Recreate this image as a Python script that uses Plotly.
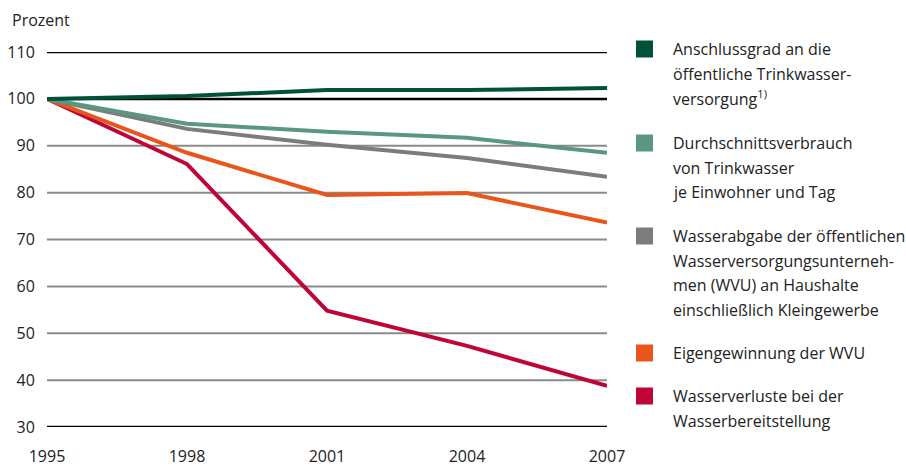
import plotly.graph_objects as go

years = [1995, 1998, 2001, 2004, 2007]
anschluss = [100, 100.6, 101.9, 101.9, 102.3]
durchschnitt = [100, 94.7, 93.0, 91.7, 88.5]
wasserabgabe = [100, 93.6, 90.2, 87.4, 83.4]
eigengewinnung = [100, 88.5, 79.5, 79.9, 73.6]
verluste = [100, 86.1, 54.8, 47.3, 38.8]

series_names = [
    ["Anschlussgrad an die", "öffentliche Trinkwasser-", "versorgung<sup>1)</sup>"],
    ["Durchschnittsverbrauch", "von Trinkwasser", "je Einwohner und Tag"],
    ["Wasserabgabe der öffentlichen", "Wasserversorgungsunterneh-", "men (WVU) an Haushalte", "einschließlich Kleingewerbe"],
    ["Eigengewinnung der WVU"],
    ["Wasserverluste bei der", "Wasserbereitstellung"],
]
colors = ["#00513a", "#5a9781", "#7c7c7c", "#e8561b", "#bf0538"]
series_values = [anschluss, durchschnitt, wasserabgabe, eigengewinnung, verluste]

y_ticks = [30, 40, 50, 60, 70, 80, 90, 100, 110]
black_ticks = [30, 100, 110]
x_ticks = [1995, 1998, 2001, 2004, 2007]

FONT = "Open Sans"
W, H = 906, 466
L, R, T, B = 47, 299, 52, 39

fig = go.Figure()

# horizontal grid lines
for yv in y_ticks:
    is_black = yv in black_ticks
    fig.add_shape(type="line", xref="paper", yref="y", x0=0, x1=1, y0=yv, y1=yv,
                  line=dict(color="black" if is_black else "#8a8a8a", width=2.5 if is_black else 2),
                  layer="below")

draw_order = [4, 3, 2, 1, 0]
for i in draw_order:
    fig.add_trace(go.Scatter(x=years, y=series_values[i], mode="lines",
                             line=dict(color=colors[i], width=4),
                             showlegend=False, hoverinfo="skip"))

def px_x(p):
    return (p - L) / (W - L - R)

def px_y(p):
    return (H - B - p) / (H - T - B)

legend_tops = [49, 143, 236, 353, 396]
line_gap = 24.5
for i, (lines, c) in enumerate(zip(series_names, colors)):
    yc = legend_tops[i]
    fig.add_shape(type="rect", xref="paper", yref="paper",
                  x0=px_x(636), x1=px_x(653), y0=px_y(yc - 8.5), y1=px_y(yc + 8.5),
                  fillcolor=c, line=dict(width=0))
    for j, t in enumerate(lines):
        fig.add_annotation(x=px_x(671), y=px_y(yc + j * line_gap), xref="paper", yref="paper",
                           text=t, showarrow=False, xanchor="left", yanchor="middle",
                           font=dict(family=FONT, size=16, color="#222222"))

fig.add_annotation(x=px_x(10), y=px_y(20), xref="paper", yref="paper", text="Prozent",
                   showarrow=False, xanchor="left", yanchor="middle",
                   font=dict(family=FONT, size=16, color="#222222"))

fig.update_layout(
    width=W, height=H,
    margin=dict(l=L, r=R, t=T, b=B, autoexpand=False),
    paper_bgcolor="white", plot_bgcolor="white",
    font=dict(family=FONT, size=16, color="#222222"),
    xaxis=dict(range=[1995, 2007], tickvals=x_ticks, ticktext=[str(v) for v in x_ticks],
               showgrid=False, zeroline=False, showline=False, automargin=False,
               ticks="outside", ticklen=15, tickcolor="rgba(0,0,0,0)"),
    yaxis=dict(range=[30, 110], tickvals=y_ticks, showgrid=False,
               zeroline=False, showline=False, automargin=False,
               ticks="outside", ticklen=8, tickcolor="rgba(0,0,0,0)"),
)

fig.write_html("out.html")
